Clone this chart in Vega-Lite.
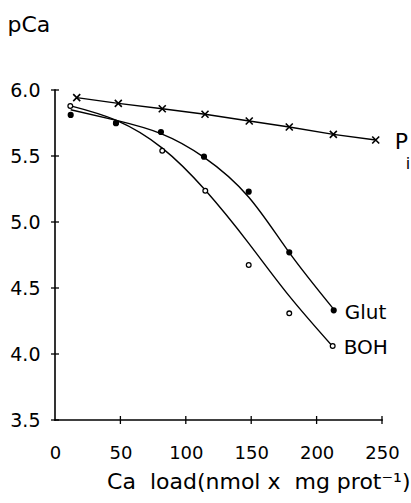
{
  "$schema": "https://vega.github.io/schema/vega-lite/v6.json",
  "autosize": "none",
  "width": 327,
  "height": 330,
  "padding": {"left": 55, "top": 90, "right": 29, "bottom": 83},
  "background": "white",
  "config": {
    "view": {"stroke": null},
    "font": "DejaVu Sans"
  },
  "datasets": {
    "pts": [
      {"series": "Pi", "load": 16.6, "pCa": 5.942},
      {"series": "Pi", "load": 48.4, "pCa": 5.899},
      {"series": "Pi", "load": 82.0, "pCa": 5.858},
      {"series": "Pi", "load": 114.7, "pCa": 5.816},
      {"series": "Pi", "load": 148.5, "pCa": 5.765},
      {"series": "Pi", "load": 179.1, "pCa": 5.72},
      {"series": "Pi", "load": 212.8, "pCa": 5.664},
      {"series": "Pi", "load": 245.2, "pCa": 5.621},
      {"series": "Glut", "load": 12.0, "pCa": 5.811},
      {"series": "Glut", "load": 46.6, "pCa": 5.748},
      {"series": "Glut", "load": 81.0, "pCa": 5.682},
      {"series": "Glut", "load": 113.9, "pCa": 5.495},
      {"series": "Glut", "load": 148.1, "pCa": 5.23},
      {"series": "Glut", "load": 179.1, "pCa": 4.77},
      {"series": "Glut", "load": 213.1, "pCa": 4.331},
      {"series": "BOH", "load": 11.7, "pCa": 5.879},
      {"series": "BOH", "load": 46.6, "pCa": 5.75},
      {"series": "BOH", "load": 82.0, "pCa": 5.54},
      {"series": "BOH", "load": 114.9, "pCa": 5.237},
      {"series": "BOH", "load": 148.1, "pCa": 4.674},
      {"series": "BOH", "load": 179.1, "pCa": 4.308},
      {"series": "BOH", "load": 212.3, "pCa": 4.061}
    ],
    "curves": [
      {"series": "Glut", "load": 12, "pCa": 5.85},
      {"series": "Glut", "load": 47, "pCa": 5.77},
      {"series": "Glut", "load": 81, "pCa": 5.67},
      {"series": "Glut", "load": 114, "pCa": 5.49},
      {"series": "Glut", "load": 148, "pCa": 5.19},
      {"series": "Glut", "load": 179, "pCa": 4.77},
      {"series": "Glut", "load": 213, "pCa": 4.34},
      {"series": "BOH", "load": 12, "pCa": 5.88},
      {"series": "BOH", "load": 47, "pCa": 5.77},
      {"series": "BOH", "load": 82, "pCa": 5.56},
      {"series": "BOH", "load": 115, "pCa": 5.24},
      {"series": "BOH", "load": 148, "pCa": 4.84},
      {"series": "BOH", "load": 179, "pCa": 4.44},
      {"series": "BOH", "load": 212, "pCa": 4.06}
    ],
    "axisLines": [
      {"axis": "y", "load": 0, "pCa": 3.5},
      {"axis": "y", "load": 0, "pCa": 6.0},
      {"axis": "x", "load": 0, "pCa": 3.5},
      {"axis": "x", "load": 250, "pCa": 3.5}
    ],
    "yTicks": [
      {"load": 0, "pCa": 3.5}, {"load": 0, "pCa": 4.0}, {"load": 0, "pCa": 4.5},
      {"load": 0, "pCa": 5.0}, {"load": 0, "pCa": 5.5}, {"load": 0, "pCa": 6.0}
    ],
    "xTicks": [
      {"load": 50, "pCa": 3.5}, {"load": 100, "pCa": 3.5}, {"load": 150, "pCa": 3.5},
      {"load": 200, "pCa": 3.5}, {"load": 250, "pCa": 3.5}
    ],
    "labels": [
      {"text": "P", "load": 245.2, "pCa": 5.621},
      {"text": "i", "load": 245.2, "pCa": 5.621},
      {"text": "Glut", "load": 213.1, "pCa": 4.331},
      {"text": "BOH", "load": 212.3, "pCa": 4.061}
    ]
  },
  "encoding": {
    "x": {"field": "load", "type": "quantitative", "scale": {"domain": [0, 250], "nice": false, "zero": false},
      "axis": {"grid": false, "domain": false, "ticks": true, "tickOpacity": 0, "tickSize": 4, "labelColor": "black", "labelFont": "DejaVu Sans", "labelPadding": 20, "labelFontSize": 18, "labelFlush": false, "values": [0, 50, 100, 150, 200, 250], "title": "Ca\u00a0\u00a0load(nmol x\u00a0\u00a0mg\u00a0prot⁻¹)", "titleFont": "DejaVu Sans", "titleFontWeight": "normal", "titleColor": "black", "titleFontSize": 22, "titleX": 355, "titleY": 68, "titleAnchor": "end", "titleAlign": "right", "titleBaseline": "alphabetic"}},
    "y": {"field": "pCa", "type": "quantitative", "scale": {"domain": [3.5, 6.0], "nice": false, "zero": false},
      "axis": {"grid": false, "domain": false, "ticks": true, "tickOpacity": 0, "tickSize": 4, "labelColor": "black", "labelFont": "DejaVu Sans", "labelPadding": 11, "labelFontSize": 19, "values": [3.5, 4.0, 4.5, 5.0, 5.5, 6.0], "format": ".1f", "title": "pCa", "titleFont": "DejaVu Sans", "titleFontWeight": "normal", "titleColor": "black", "titleFontSize": 22, "titleAngle": 0, "titleX": -48, "titleY": -59, "titleAlign": "left", "titleBaseline": "alphabetic"}}
  },
  "layer": [
    {"data": {"name": "axisLines"}, "mark": {"type": "line", "color": "black", "strokeWidth": 1.6, "strokeCap": "square"}, "encoding": {"detail": {"field": "axis"}}},
    {"data": {"name": "yTicks"}, "mark": {"type": "tick", "orient": "horizontal", "color": "black", "size": 8, "thickness": 1.3, "opacity": 1}, "encoding": {}},
    {"data": {"name": "xTicks"}, "mark": {"type": "tick", "orient": "vertical", "color": "black", "size": 8, "thickness": 1.3, "opacity": 1}, "encoding": {}},
    {"data": {"name": "curves"}, "mark": {"type": "line", "interpolate": "natural", "color": "black", "strokeWidth": 1.4}, "encoding": {"detail": {"field": "series"}}},
    {"data": {"name": "pts"}, "transform": [{"filter": "datum.series === 'Pi'"}], "mark": {"type": "line", "color": "black", "strokeWidth": 1.4}, "encoding": {}},
    {"data": {"name": "pts"}, "transform": [{"filter": "datum.series === 'Pi'"}], "mark": {"type": "point", "shape": "M-1,-1L1,1M-1,1L1,-1", "filled": false, "stroke": "black", "strokeWidth": 1.6, "size": 49, "opacity": 1}, "encoding": {}},
    {"data": {"name": "pts"}, "transform": [{"filter": "datum.series === 'BOH'"}], "mark": {"type": "point", "shape": "circle", "filled": true, "fill": "white", "stroke": "black", "strokeWidth": 1.3, "size": 22, "opacity": 1}, "encoding": {}},
    {"data": {"name": "pts"}, "transform": [{"filter": "datum.series === 'Glut'"}], "mark": {"type": "point", "shape": "circle", "filled": true, "fill": "black", "size": 38, "opacity": 1}, "encoding": {}},
    {"data": {"name": "labels"}, "transform": [{"filter": "datum.text === 'P'"}], "mark": {"type": "text", "align": "left", "baseline": "middle", "color": "black", "fontSize": 22, "dx": 19, "dy": 2}, "encoding": {"text": {"field": "text"}}},
    {"data": {"name": "labels"}, "transform": [{"filter": "datum.text === 'i'"}], "mark": {"type": "text", "align": "left", "baseline": "middle", "color": "black", "fontSize": 16, "dx": 30, "dy": 24}, "encoding": {"text": {"field": "text"}}},
    {"data": {"name": "labels"}, "transform": [{"filter": "datum.text === 'Glut'"}], "mark": {"type": "text", "align": "left", "baseline": "middle", "color": "black", "fontSize": 20, "dx": 11, "dy": 3}, "encoding": {"text": {"field": "text"}}},
    {"data": {"name": "labels"}, "transform": [{"filter": "datum.text === 'BOH'"}], "mark": {"type": "text", "align": "left", "baseline": "middle", "color": "black", "fontSize": 20, "dx": 11, "dy": 2}, "encoding": {"text": {"field": "text"}}}
  ]
}
